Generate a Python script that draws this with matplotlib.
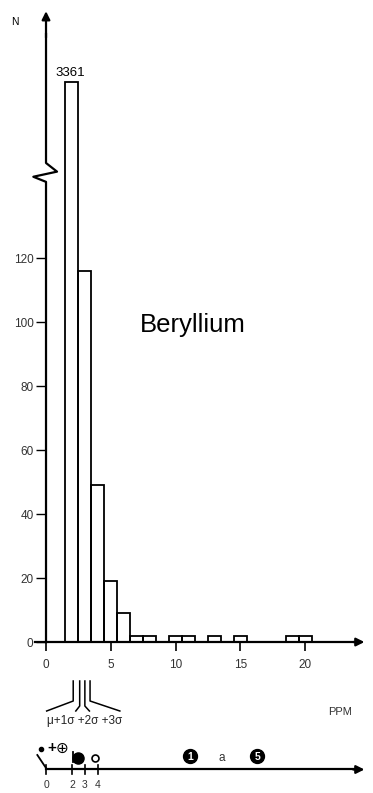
import numpy as np
import matplotlib.pyplot as plt

plt.rcParams['font.family'] = ['Liberation Sans', 'DejaVu Sans']

# histogram data (PPM bin centre, number of samples)
ppm = [2, 3, 4, 5, 6, 7, 8, 10, 11, 13, 15, 19, 20]
counts = [3361, 116, 49, 19, 9, 2, 2, 2, 2, 2, 2, 2, 2]
y_ticks = [0, 20, 40, 60, 80, 100, 120]
x_ticks = [0, 5, 10, 15, 20]

# lower scale: class limits and symbol positions (PPM)
scale_ticks = [0, 2, 3, 4]
sigma_lines = [2.1, 2.6, 3.0, 3.4]
sigma_ends = [0.05, 2.3, 3.35, 5.7]
dot_x, plus_x, oplus_x = -0.4, 0.45, 1.2
big_dot_x, open_dot_x = 2.47, 3.76
one_x, a_x, five_x = 11.1, 13.6, 16.3

cap = 175  # where the broken first bar is cut off

fig = plt.figure(figsize=(3.73, 7.93), dpi=100)
ax = fig.add_axes([0.0817, 0.1581, 0.9097, 0.8353])
ax.set_xlim(-1.2, 25.0)
ax.set_ylim(-8, 199)

shown = np.minimum(counts, cap)
ax.bar(ppm, shown, width=1.0, fill=False, edgecolor='black', linewidth=1.3)
ax.text(ppm[0] - 0.1, shown[0] + 1, str(counts[0]), ha='center', va='bottom', fontsize=9.5)

for s in ax.spines.values():
    s.set_visible(False)
ax.spines['left'].set_position(('data', 0))
ax.spines['bottom'].set_position(('data', 0))
ax.set_xticks(x_ticks)
ax.set_yticks(y_ticks)
ax.tick_params(axis='y', direction='out', length=7, width=1, pad=2, labelsize=8.5, labelcolor='#333')
ax.tick_params(axis='x', direction='out', length=6.5, width=1.2, pad=6, labelsize=8.5, labelcolor='#333')

# y axis with break
ax.plot([0, 0, -0.98, 0.85, 0, 0], [0, 143.8, 145.4, 147, 149.7, 190], color='black', lw=1.6, clip_on=False)
ax.annotate('', xy=(0, 198), xytext=(0, 188),
            arrowprops=dict(arrowstyle='-|>', color='black', lw=1.6, mutation_scale=12))
# x axis
ax.plot([-0.85, 24], [0, 0], color='black', lw=1.6)
ax.annotate('', xy=(24.8, 0), xytext=(23.5, 0),
            arrowprops=dict(arrowstyle='-|>', color='black', lw=1.6, mutation_scale=12))

ax.text(11.35, 99, 'Beryllium', ha='center', va='center', fontsize=18.5)
fig.text(15 / 373, 1 - 22 / 793, 'N', ha='center', va='center', fontsize=7.5)
fig.text(340 / 373, 1 - 712 / 793, 'PPM', ha='center', va='center', fontsize=8, color='#333')

# lower diagram, y in pixel rows
ax2 = fig.add_axes([0.0817, 0.0, 0.9097, 117 / 793])
ax2.set_xlim(-1.2, 25.0)
ax2.set_ylim(793, 676)
ax2.axis('off')

for xs, xe, ybend in zip(sigma_lines, sigma_ends, [701, 706, 706, 701]):
    ax2.plot([xs, xs, xe], [681, ybend, 711], color='black', lw=1.1)
ax2.text(3.0, 721, 'μ+1σ +2σ +3σ', ha='center', va='center', fontsize=8.5, color='#222')

ax2.plot([0, 24], [769.5, 769.5], color='black', lw=1.6)
ax2.annotate('', xy=(24.8, 769.5), xytext=(23.5, 769.5),
             arrowprops=dict(arrowstyle='-|>', color='black', lw=1.6, mutation_scale=12))
for t in scale_ticks:
    ax2.plot([t, t], [765, 774], color='black', lw=1.2)
    ax2.text(t, 785, str(t), ha='center', va='center', fontsize=7.5, color='#333')

ax2.plot(dot_x, 749, 'o', color='black', ms=3)
ax2.text(plus_x, 748.5, '+', ha='center', va='center', fontsize=11, fontweight='bold')
ax2.text(oplus_x, 748, '⊕', ha='center', va='center', fontsize=11, family='DejaVu Sans')
ax2.plot([-0.67, 0], [755, 768], color='black', lw=1.3)
ax2.plot([2.1, 2.1], [752, 762], color='black', lw=1.3)
ax2.plot(big_dot_x, 758.5, 'o', color='black', ms=8)
ax2.plot(open_dot_x, 758, 'o', mfc='white', mec='black', mew=1.2, ms=5)
for xv, lab in [(one_x, '1'), (five_x, '5')]:
    ax2.plot(xv, 756.5, 'o', color='black', ms=10)
    ax2.text(xv, 757, lab, ha='center', va='center', fontsize=7.5, color='white', fontweight='bold')
ax2.text(a_x, 758, 'a', ha='center', va='center', fontsize=8.5, color='#333')

fig.savefig('out.png', dpi=100)
